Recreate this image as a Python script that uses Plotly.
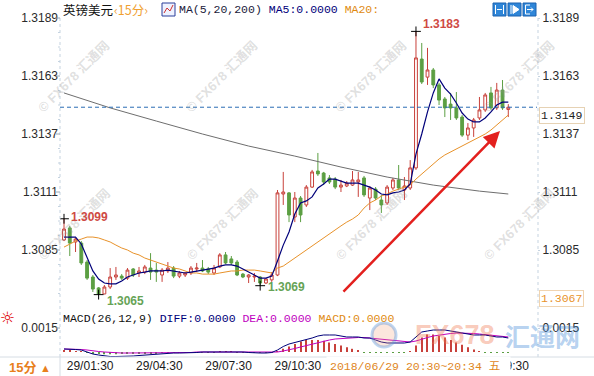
import plotly.graph_objects as go

W, H = 594, 376

# ---- GBP/USD 15-minute bars, 2018/06/29 01:15 - 20:30 ----
open_ = [
    1.30895, 1.30949, 1.30886, 1.30881, 1.30796, 1.30729, 1.30680, 1.30653, 1.30684, 1.30729,
    1.30733, 1.30724, 1.30765, 1.30747, 1.30751, 1.30769, 1.30760, 1.30738, 1.30756, 1.30769,
    1.30733, 1.30738, 1.30747, 1.30765, 1.30769, 1.30765, 1.30747, 1.30774, 1.30828, 1.30810,
    1.30796, 1.30742, 1.30729, 1.30729, 1.30729, 1.30702, 1.30716, 1.30738, 1.31101, 1.31106,
    1.30998, 1.31083, 1.31052, 1.31132, 1.31204, 1.31195, 1.31173, 1.31168, 1.31132, 1.31137,
    1.31141, 1.31155, 1.31173, 1.31083, 1.31123, 1.31074, 1.31061, 1.31128, 1.31164, 1.31119,
    1.31128, 1.31218, 1.31706, 1.31625, 1.31657, 1.31590, 1.31527, 1.31504, 1.31487, 1.31446,
    1.31365, 1.31397, 1.31442, 1.31478, 1.31554, 1.31487, 1.31567, 1.31480]
high = [
    1.30990, 1.30958, 1.30904, 1.30890, 1.30805, 1.30738, 1.30684, 1.30693, 1.30769, 1.30774,
    1.30742, 1.30769, 1.30769, 1.30774, 1.30783, 1.30836, 1.30792, 1.30769, 1.30796, 1.30778,
    1.30756, 1.30751, 1.30778, 1.30792, 1.30805, 1.30774, 1.30783, 1.30836, 1.30841, 1.30823,
    1.30805, 1.30747, 1.30742, 1.30747, 1.30733, 1.30724, 1.30751, 1.31119, 1.31200, 1.31110,
    1.31110, 1.31092, 1.31141, 1.31209, 1.31285, 1.31200, 1.31186, 1.31177, 1.31164, 1.31159,
    1.31204, 1.31200, 1.31182, 1.31137, 1.31132, 1.31097, 1.31141, 1.31173, 1.31231, 1.31177,
    1.31253, 1.31830, 1.31778, 1.31756, 1.31666, 1.31599, 1.31536, 1.31554, 1.31558, 1.31455,
    1.31419, 1.31442, 1.31536, 1.31554, 1.31581, 1.31599, 1.31612, 1.31504]
low = [
    1.30890, 1.30823, 1.30841, 1.30783, 1.30716, 1.30662, 1.30650, 1.30652, 1.30675, 1.30716,
    1.30716, 1.30716, 1.30729, 1.30729, 1.30742, 1.30716, 1.30707, 1.30707, 1.30747, 1.30724,
    1.30724, 1.30729, 1.30738, 1.30751, 1.30751, 1.30742, 1.30738, 1.30769, 1.30787, 1.30783,
    1.30733, 1.30724, 1.30702, 1.30707, 1.30690, 1.30698, 1.30707, 1.30733, 1.31052, 1.30975,
    1.30975, 1.30975, 1.31043, 1.31128, 1.31182, 1.31141, 1.31146, 1.31123, 1.31110, 1.31132,
    1.31137, 1.31088, 1.31088, 1.31029, 1.31074, 1.31016, 1.31052, 1.31119, 1.31119, 1.31074,
    1.31119, 1.31209, 1.31594, 1.31590, 1.31576, 1.31500, 1.31446, 1.31433, 1.31433, 1.31357,
    1.31343, 1.31357, 1.31433, 1.31469, 1.31478, 1.31478, 1.31478, 1.31446]
close = [
    1.30944, 1.30881, 1.30899, 1.30792, 1.30724, 1.30675, 1.30653, 1.30684, 1.30729, 1.30738,
    1.30724, 1.30760, 1.30738, 1.30756, 1.30774, 1.30751, 1.30751, 1.30760, 1.30769, 1.30733,
    1.30747, 1.30747, 1.30769, 1.30769, 1.30756, 1.30751, 1.30769, 1.30828, 1.30792, 1.30792,
    1.30738, 1.30729, 1.30738, 1.30733, 1.30702, 1.30720, 1.30738, 1.31106, 1.31110, 1.31007,
    1.31083, 1.31007, 1.31132, 1.31200, 1.31191, 1.31155, 1.31155, 1.31132, 1.31141, 1.31150,
    1.31164, 1.31164, 1.31097, 1.31128, 1.31083, 1.31052, 1.31132, 1.31164, 1.31128, 1.31137,
    1.31218, 1.31711, 1.31603, 1.31657, 1.31590, 1.31522, 1.31487, 1.31487, 1.31442, 1.31365,
    1.31397, 1.31433, 1.31478, 1.31545, 1.31487, 1.31567, 1.31487, 1.31490]

# moving averages MA(5,20,200)
ma5 = [
    1.30908, 1.30908, 1.30908, 1.30877, 1.30819, 1.30756, 1.30720, 1.30702, 1.30698, 1.30698,
    1.30711, 1.30729, 1.30738, 1.30747, 1.30751, 1.30756, 1.30756, 1.30756, 1.30760, 1.30756,
    1.30751, 1.30747, 1.30751, 1.30756, 1.30760, 1.30765, 1.30769, 1.30778, 1.30783, 1.30783,
    1.30778, 1.30765, 1.30751, 1.30738, 1.30724, 1.30724, 1.30733, 1.30801, 1.30872, 1.30931,
    1.31011, 1.31061, 1.31070, 1.31088, 1.31128, 1.31146, 1.31168, 1.31168, 1.31159, 1.31150,
    1.31150, 1.31150, 1.31141, 1.31132, 1.31119, 1.31101, 1.31097, 1.31106, 1.31110, 1.31119,
    1.31146, 1.31280, 1.31370, 1.31469, 1.31554, 1.31617, 1.31576, 1.31549, 1.31509, 1.31464,
    1.31437, 1.31424, 1.31424, 1.31442, 1.31469, 1.31500, 1.31513, 1.31513]
ma20 = [
    1.30863, 1.30877, 1.30890, 1.30899, 1.30908, 1.30908, 1.30904, 1.30895, 1.30886, 1.30872,
    1.30859, 1.30850, 1.30836, 1.30828, 1.30814, 1.30805, 1.30796, 1.30787, 1.30778, 1.30769,
    1.30765, 1.30756, 1.30747, 1.30747, 1.30742, 1.30742, 1.30742, 1.30747, 1.30751, 1.30756,
    1.30756, 1.30760, 1.30760, 1.30760, 1.30756, 1.30751, 1.30747, 1.30769, 1.30778, 1.30796,
    1.30814, 1.30832, 1.30850, 1.30868, 1.30886, 1.30904, 1.30926, 1.30944, 1.30958, 1.30975,
    1.30989, 1.31007, 1.31038, 1.31061, 1.31074, 1.31092, 1.31101, 1.31114, 1.31123, 1.31132,
    1.31141, 1.31168, 1.31191, 1.31213, 1.31236, 1.31258, 1.31276, 1.31289, 1.31303, 1.31316,
    1.31330, 1.31343, 1.31357, 1.31370, 1.31388, 1.31410, 1.31433, 1.31455]
ma200_bar = [0, 8, 16, 24, 32, 40, 48, 56, 64, 72, 77]
ma200 = [1.31554, 1.31487, 1.31428, 1.31370, 1.31316, 1.31271,
         1.31222, 1.31177, 1.31141, 1.31114, 1.31101]

# MACD(26,12,9)
diff = [
    0.000188, 0.000188, 0.000156, 0.000125, 0.0, -0.000125, -0.000188, -0.00025, -0.000281, -0.000281,
    -0.000281, -0.00025, -0.00025, -0.000219, -0.000188, -0.000156, -0.000125, -0.000125, -0.000094, -0.000063,
    -0.000063, -0.000063, -0.000031, -0.000031, 0.0, 0.0, 0.0, 0.000031, 0.000031, 0.000031,
    0.0, 0.0, -0.000031, -0.000063, -0.000063, -0.000063, -0.000031, 0.000125, 0.000344, 0.0005,
    0.000594, 0.000688, 0.00075, 0.000875, 0.001, 0.001063, 0.001063, 0.001063, 0.001, 0.000938,
    0.000938, 0.000938, 0.000875, 0.000875, 0.00075, 0.000625, 0.000563, 0.000563, 0.000563, 0.000563,
    0.000625, 0.000938, 0.00125, 0.001313, 0.001375, 0.001375, 0.001375, 0.001313, 0.00125, 0.001188,
    0.001125, 0.001063, 0.001063, 0.001063, 0.001, 0.000938, 0.000938, 0.000875]
dea = [
    0.000188, 0.000188, 0.000188, 0.000156, 0.000125, 0.000063, 0.000031, 0.0, -0.000031, -0.000063,
    -0.000063, -0.000063, -0.000063, -0.000063, -0.000063, -0.000063, -0.000063, -0.000063, -0.000063, -0.000031,
    -0.000031, -0.000031, -0.000031, 0.0, 0.0, 0.0, 0.0, 0.0, 0.0, 0.0,
    0.0, 0.0, 0.0, 0.0, 0.0, 0.0, 0.0, 0.0, 0.000063, 0.000125,
    0.000219, 0.000313, 0.000406, 0.0005, 0.000594, 0.000688, 0.00075, 0.000813, 0.000844, 0.000875,
    0.000906, 0.000906, 0.000906, 0.000875, 0.000844, 0.000813, 0.00075, 0.000719, 0.000688, 0.000656,
    0.000625, 0.000688, 0.000813, 0.000906, 0.001, 0.001063, 0.001125, 0.001156, 0.001188, 0.001188,
    0.001188, 0.001156, 0.001125, 0.001094, 0.001063, 0.001031, 0.001, 0.000938]
macd_bar = [
    0.00008, 0.00008, 0.00006, 0.00004, -0.00006, -0.0001, -0.00012, -0.00014, -0.00014, -0.00014,
    -0.00013, -0.00012, -0.00011, -0.0001, -0.00009, -0.00008, -0.00007, -0.00006, -0.00005, -0.00005,
    -0.00005, -0.00004, -0.00004, -0.00003, -0.00003, -0.00003, -0.00003, 0.00003, 0.00003, 0.00003,
    -0.00003, -0.00003, -0.00004, -0.00005, -0.00006, -0.00006, -0.00004, 0.00006, 0.0002, 0.00035,
    0.0005, 0.00065, 0.00075, 0.00075, 0.00075, 0.0007, 0.0006, 0.0005, 0.0004, 0.0003,
    0.0002, 0.0001, -0.00004, -0.00005, -0.00005, -0.00005, -0.00005, -0.00005, -0.00005, -0.00005,
    0.00005, 0.0004, 0.0009, 0.0011, 0.0011, 0.001, 0.0009, 0.00075, 0.0006, 0.00045,
    0.0003, 0.00015, 0.00005, -0.00005, -0.00005, -0.00005, -0.00005, -0.00005]

price_ticks = [1.3189, 1.3163, 1.3137, 1.3111, 1.3085]
macd_ticks = [0.0015]
time_tick_bar = [1, 13, 25, 37, 73]
time_tick_text = ["29/01:30", "29/04:30", "29/07:30", "29/10:30", "29/19:30"]
cursor_text = "2018/06/29 20:30~20:34 五"
last_price = 1.3149
axis_low_price = 1.3067
high_marks = [0, 61]
low_marks = [6, 34]

bars = list(range(len(close)))

# ---- styling ----
RED = "#c8413b"
GREEN = "#5c9f43"
NAVY = "#00007a"
ORANGE = "#e8922a"
GRAY = "#6e6e6e"
MAGENTA = "#c000c0"
AXIS = "#c5d3e0"
SANS = "Liberation Sans, Arial, sans-serif"
MONO = "Liberation Mono, DejaVu Sans Mono, Noto Sans CJK SC, monospace"
CJK = "Noto Sans CJK SC, sans-serif"

# drawing-area calibration (pixels)
PLOT_L, PLOT_R = 60, 537
LEFT_LABEL_SHIFT = -2
BAR0_PX, BAR_PX = 64.0, 5.77
MAIN_TOP, MAIN_BOT = 4, 308
P_REF, P_REF_PX, PX_PER_UNIT = 1.3189, 18, 22308
SUB_TOP, SUB_BOT = 310, 357
ZERO_PX, MACD_PX_PER_UNIT = 352, 16000


def fx(p):
    return p / W


def fy(p):
    return 1 - p / H


x_range = [(PLOT_L - BAR0_PX) / BAR_PX, (PLOT_R - BAR0_PX) / BAR_PX]
y_range = [P_REF - (MAIN_BOT - P_REF_PX) / PX_PER_UNIT,
           P_REF + (P_REF_PX - MAIN_TOP) / PX_PER_UNIT]
m_range = [-(SUB_BOT - ZERO_PX) / MACD_PX_PER_UNIT,
           (ZERO_PX - SUB_TOP) / MACD_PX_PER_UNIT]

fig = go.Figure()

# price panel
fig.add_trace(go.Scatter(x=ma200_bar, y=ma200, mode="lines",
                         line=dict(color=GRAY, width=1), hoverinfo="skip"))
fig.add_trace(go.Candlestick(
    x=bars, open=open_, high=high, low=low, close=close,
    increasing=dict(line=dict(color=RED, width=1), fillcolor="#ffffff"),
    decreasing=dict(line=dict(color=GREEN, width=1), fillcolor=GREEN),
    whiskerwidth=0))
fig.add_trace(go.Scatter(x=bars, y=ma20, mode="lines",
                         line=dict(color=ORANGE, width=1), hoverinfo="skip"))
fig.add_trace(go.Scatter(x=bars, y=ma5, mode="lines",
                         line=dict(color=NAVY, width=1.2), hoverinfo="skip"))
fig.add_trace(go.Scatter(
    x=high_marks + low_marks,
    y=[high[i] for i in high_marks] + [low[i] for i in low_marks],
    mode="markers", hoverinfo="skip",
    marker=dict(symbol="cross-thin", size=7, line=dict(color="#000000", width=1))))
# right-hand price scale
fig.add_trace(go.Scatter(x=[bars[0]], y=[close[0]], xaxis="x", yaxis="y3",
                         mode="markers", marker=dict(opacity=0), hoverinfo="skip"))

# MACD panel
fig.add_trace(go.Bar(x=bars, y=macd_bar, width=0.18, xaxis="x2", yaxis="y2",
                     marker=dict(color=[RED if v > 0 else GREEN for v in macd_bar],
                                 line=dict(width=0)), hoverinfo="skip"))
fig.add_trace(go.Scatter(x=bars, y=dea, xaxis="x2", yaxis="y2", mode="lines",
                         line=dict(color=MAGENTA, width=1), hoverinfo="skip"))
fig.add_trace(go.Scatter(x=bars, y=diff, xaxis="x2", yaxis="y2", mode="lines",
                         line=dict(color=NAVY, width=1), hoverinfo="skip"))
fig.add_trace(go.Scatter(x=[bars[0]], y=[0], xaxis="x2", yaxis="y4",
                         mode="markers", marker=dict(opacity=0), hoverinfo="skip"))

tick_font = dict(family=SANS, size=12, color="#2a2a2a")
xcommon = dict(range=x_range, domain=[fx(PLOT_L), fx(PLOT_R)], showgrid=False,
               zeroline=False, showline=False, fixedrange=True)
ycommon = dict(showgrid=False, zeroline=False, showline=False, fixedrange=True,
               tickfont=tick_font, tickcolor=AXIS)

fig.update_layout(
    width=W, height=H, margin=dict(l=0, r=0, t=0, b=0),
    paper_bgcolor="#ffffff", plot_bgcolor="#ffffff", showlegend=False,
    barmode="overlay",
    xaxis=dict(**xcommon, anchor="y", showticklabels=False, ticks="",
               rangeslider=dict(visible=False)),
    xaxis2=dict(**xcommon, anchor="y2", tickmode="array", tickvals=time_tick_bar,
                ticktext=time_tick_text, ticks="", ticklabelposition="outside right",
                ticklabelshift=-3, tickfont=dict(family=SANS, size=12, color="#1a1a1a")),
    yaxis=dict(**ycommon, domain=[fy(MAIN_BOT), fy(MAIN_TOP)], range=y_range,
               anchor="free", position=fx(PLOT_L + LEFT_LABEL_SHIFT), side="left",
               tickmode="array", tickvals=price_ticks,
               ticktext=[f"{v:.4f}" for v in price_ticks], ticks=""),
    yaxis3=dict(**ycommon, overlaying="y", range=y_range, anchor="x", side="right",
                tickmode="array", tickvals=price_ticks, ticks="outside",
                ticktext=[f"{v:.4f}" for v in price_ticks], ticklen=2),
    yaxis2=dict(**ycommon, domain=[fy(SUB_BOT), fy(SUB_TOP)], range=m_range,
                anchor="free", position=fx(PLOT_L + LEFT_LABEL_SHIFT), side="left",
                tickmode="array", tickvals=macd_ticks,
                ticktext=[f"{v:.4f}" for v in macd_ticks], ticks=""),
    yaxis4=dict(**ycommon, overlaying="y2", range=m_range, anchor="x2", side="right",
                tickmode="array", tickvals=macd_ticks, ticks="outside",
                ticktext=[f"{v:.4f}" for v in macd_ticks], ticklen=2),
)

shapes = []
ann = []


def label(x, y, text, font, xanchor="left", **kw):
    d = dict(xref="paper", yref="paper", x=fx(x), y=fy(y), text=text,
             showarrow=False, xanchor=xanchor, yanchor="middle", font=font)
    d.update(kw)
    ann.append(d)


# frame lines
shapes.append(dict(type="line", xref="paper", yref="paper", x0=fx(PLOT_L), x1=fx(PLOT_L),
                   y0=fy(18), y1=fy(SUB_BOT), line=dict(color=AXIS, width=1, dash="dot")))
shapes.append(dict(type="line", xref="paper", yref="paper", x0=fx(PLOT_R + 1), x1=fx(PLOT_R + 1),
                   y0=fy(18), y1=fy(SUB_BOT), line=dict(color=AXIS, width=1, dash="dot")))
shapes.append(dict(type="line", xref="paper", yref="paper", x0=0, x1=1,
                   y0=fy(SUB_BOT), y1=fy(SUB_BOT), line=dict(color="#d6dde4", width=1)))
shapes.append(dict(type="line", xref="paper", yref="paper", x0=fx(PLOT_L), x1=fx(PLOT_L),
                   y0=0, y1=fy(SUB_BOT), line=dict(color="#d6dde4", width=1)))
# short tick marks beside the left-hand labels, plus minor marks along the axis
for v in price_ticks:
    shapes.append(dict(type="line", xref="paper", yref="y", x0=fx(PLOT_L - 4), x1=fx(PLOT_L),
                       y0=v, y1=v, line=dict(color="#9aa8b6", width=1)))
    for k in (1, 2, 3):
        mv = v - k * 0.00065
        if mv > y_range[0]:
            shapes.append(dict(type="line", xref="paper", yref="y", x0=fx(PLOT_L - 2),
                               x1=fx(PLOT_L), y0=mv, y1=mv,
                               line=dict(color=AXIS, width=1)))
for v in macd_ticks:
    shapes.append(dict(type="line", xref="paper", yref="y2", x0=fx(PLOT_L - 4), x1=fx(PLOT_L),
                       y0=v, y1=v, line=dict(color="#9aa8b6", width=1)))

# last price line
shapes.append(dict(type="line", xref="paper", yref="y", x0=fx(PLOT_L), x1=fx(PLOT_R),
                   y0=last_price, y1=last_price,
                   line=dict(color="#2a6db5", width=1, dash="4px,3px")))

# watermarks
for cx, cy in [(74, 77), (222, 77), (371, 77), (519, 77),
               (74, 224), (222, 224), (371, 224), (519, 224)]:
    label(cx, cy, "© FX678 汇通网",
          dict(family="Liberation Sans, Noto Sans CJK SC", size=13,
               color="rgba(150,150,150,0.30)", weight="bold"),
          xanchor="center", textangle=-45)
# MACD panel logo
shapes.append(dict(type="circle", xref="paper", yref="paper", x0=fx(372), x1=fx(396),
                   y0=fy(347), y1=fy(323), line=dict(color="rgba(90,150,220,0.40)", width=3),
                   fillcolor="rgba(245,160,120,0.25)"))
label(413, 335, "<b>FX678</b>", dict(family=SANS, size=27, color="rgba(240,120,80,0.40)"))
label(503, 335, "<b>汇通网</b>", dict(family=CJK, size=25, color="rgba(70,140,215,0.40)"))

# header
label(61, 10, "英镑美元", dict(family=CJK, size=12.5, color="#111111"))
label(112, 10, "‹15分›", dict(family=CJK, size=12.5, color="#f0a030"))
shapes.append(dict(type="rect", xref="paper", yref="paper", x0=fx(162), x1=fx(175),
                   y0=fy(16), y1=fy(3), line=dict(color="#2b3f9a", width=1),
                   fillcolor="#eef2ff"))
shapes.append(dict(type="path", xref="paper", yref="paper",
                   path=f"M{fx(164)},{fy(13)} L{fx(167)},{fy(8)} L{fx(170)},{fy(11)} L{fx(173)},{fy(5)}",
                   line=dict(color="#d03030", width=1)))
label(177, 10, ('<span style="color:#1a1a3a">MA(5,20,200)</span> '
                '<span style="color:#00007a">MA5:0.0000</span> '
                '<span style="color:#e08a10">MA20:</span>'),
      dict(family=MONO, size=11.5, color="#111111"))
# toolbar buttons
for bx in (493, 508, 523):
    shapes.append(dict(type="rect", xref="paper", yref="paper", x0=fx(bx), x1=fx(bx + 13),
                       y0=fy(16), y1=fy(3), line=dict(color="#1d63b0", width=1),
                       fillcolor="#2f86d8"))
shapes.append(dict(type="path", xref="paper", yref="paper",
                   path=(f"M{fx(495.5)},{fy(5)} L{fx(495.5)},{fy(14)} "
                         f"M{fx(503.5)},{fy(5)} L{fx(503.5)},{fy(14)} "
                         f"M{fx(497)},{fy(9.5)} L{fx(502)},{fy(9.5)}"),
                   line=dict(color="#ffffff", width=1)))
shapes.append(dict(type="path", xref="paper", yref="paper",
                   path=(f"M{fx(511)},{fy(5)} L{fx(511)},{fy(14)} "
                         f"M{fx(513)},{fy(5.5)} L{fx(519)},{fy(9.5)} L{fx(513)},{fy(13.5)} Z"),
                   line=dict(color="#ffffff", width=1), fillcolor="#ffffff"))
shapes.append(dict(type="path", xref="paper", yref="paper",
                   path=(f"M{fx(530)},{fy(5)} L{fx(525.5)},{fy(5)} L{fx(525.5)},{fy(14)} L{fx(530)},{fy(14)} "
                         f"M{fx(527)},{fy(9.5)} L{fx(533)},{fy(9.5)} M{fx(531)},{fy(7.5)} L{fx(533)},{fy(9.5)} L{fx(531)},{fy(11.5)}"),
                   line=dict(color="#ffffff", width=1)))

# extreme price labels
mark_offsets = {0: (5, 2), 61: (5, 7), 6: (6, -6), 34: (6, -1)}
for i in high_marks:
    dx, dy = mark_offsets[i]
    ann.append(dict(x=i, y=high[i], xref="x", yref="y", showarrow=False,
                    xanchor="left", yanchor="middle", xshift=dx, yshift=dy,
                    text=f"<b>{high[i]:.4f}</b>",
                    font=dict(family=SANS, size=12, color="#cf4a44")))
for i in low_marks:
    dx, dy = mark_offsets[i]
    ann.append(dict(x=i, y=low[i], xref="x", yref="y", showarrow=False,
                    xanchor="left", yanchor="middle", xshift=dx, yshift=dy,
                    text=f"<b>{low[i]:.4f}</b>",
                    font=dict(family=SANS, size=12, color="#66a356")))

# right-hand value boxes
ann.append(dict(xref="paper", yref="y", x=fx(539), y=last_price, xanchor="left",
                yanchor="top", showarrow=False, text=f"{last_price:.4f}",
                font=dict(family=MONO, size=11.5, color="#222222"),
                bgcolor="#ffffff", bordercolor="#e6d2b4", borderwidth=1, borderpad=1))
ann.append(dict(xref="paper", yref="y", x=fx(539), y=axis_low_price, xanchor="left",
                yanchor="top", showarrow=False, text=f"{axis_low_price:.4f}",
                font=dict(family=MONO, size=11.5, color="#e8922a"),
                bgcolor="#ffffff", bordercolor="#f0d4b0", borderwidth=1, borderpad=1))

# trend arrow
ann.append(dict(x=75.56, y=1.31383, xref="x", yref="y", ax=48.18, ay=1.30657,
                axref="x", ayref="y", text="", showarrow=True, arrowhead=2,
                arrowsize=1.3, arrowwidth=2.5, arrowcolor="#e3201e"))

# MACD legend
label(61, 318, ('<span style="color:#111111">MACD(26,12,9)</span> '
                '<span style="color:#00007a">DIFF:0.0000</span> '
                '<span style="color:#c000c0">DEA:0.0000</span> '
                '<span style="color:#e08a10">MACD:0.0000</span>'),
      dict(family=MONO, size=11.5, color="#111111"))
label(7, 318, "☼", dict(family="DejaVu Sans", size=17, color="#e00000"), xanchor="center")

# period selector and time cursor
label(7, 367, '<b>15分</b> <span style="font-size:11px">▲</span>',
      dict(family="Liberation Sans, Noto Sans CJK SC", size=13, color="#e8801c"))
label(326, 366, cursor_text + "\u00a0", dict(family=MONO, size=11.5, color="#e0861c"),
      bgcolor="#ffffff", borderpad=3)

fig.update_layout(shapes=shapes, annotations=ann)
fig.write_html("out.html", config={"displayModeBar": False})
